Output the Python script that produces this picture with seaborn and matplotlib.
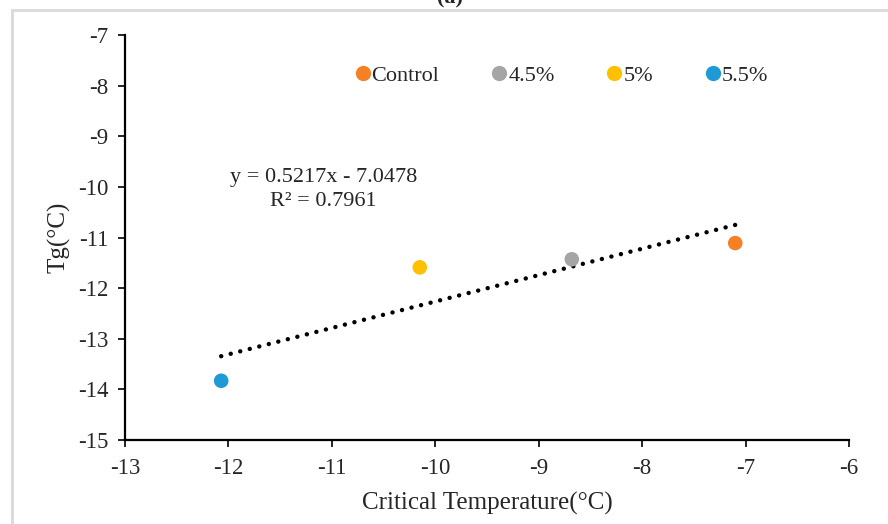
import matplotlib
matplotlib.use('Agg')
import matplotlib.pyplot as plt
import matplotlib.patches as patches
import seaborn as sns
import pandas as pd
import numpy as np

# Data
groups = ['Control', '4.5%', '5%', '5.5%']
critical_temp = [-7.10, -8.68, -10.15, -12.07]
tg = [-11.11, -11.43, -11.59, -13.83]
colors = ['#F58025', '#A5A5A5', '#FFC000', '#1F9AD6']

# Linear trend as reported on the chart
slope = 0.5217
intercept = -7.0478
r2 = 0.7961

sns.set_style('ticks')
plt.rcParams['font.family'] = ['Liberation Serif', 'DejaVu Serif']
plt.rcParams['font.size'] = 16
plt.rcParams['axes.unicode_minus'] = False

df = pd.DataFrame({'group': groups, 'x': critical_temp, 'y': tg})

fig = plt.figure(figsize=(8.88, 5.24), dpi=100)
ax = fig.add_axes([125 / 888, 84 / 524, 724 / 888, 405 / 524])

# Light grey frame around the chart area (cropped on the right/bottom)
frame = patches.Rectangle((11.5 / 888, -0.1), 1.2, 1 - 9.5 / 524 + 0.1,
                          transform=fig.transFigure, fill=False,
                          edgecolor='#D9D9D9', linewidth=2, clip_on=False)
fig.patches.append(frame)

# Dotted trend line across the data range
xs = np.array([min(critical_temp), max(critical_temp)])
trend = pd.DataFrame({'x': xs, 'y': slope * xs + intercept})
sns.lineplot(data=trend, x='x', y='y', ax=ax, color='black', linewidth=3.2,
             linestyle=(0, (0.01, 2.2)), dash_capstyle='round', legend=False)

sns.scatterplot(data=df, x='x', y='y', hue='group', palette=colors,
                s=110, edgecolor='none', ax=ax, zorder=3)

ax.set_xlim(-13, -6)
ax.set_ylim(-15, -7)
ax.set_xticks(range(-13, -5))
ax.set_yticks(range(-15, -6))
ax.set_xlabel('Critical Temperature(°C)', fontsize=18, labelpad=9)
ax.set_ylabel('Tg(°C)', fontsize=18, labelpad=5)
ax.tick_params(axis='both', direction='out', length=5, width=1.2,
               color='black', labelsize=16.5)
ax.tick_params(axis='y', pad=7)
ax.tick_params(axis='x', pad=8)
sns.despine(ax=ax)
for side in ['left', 'bottom']:
    ax.spines[side].set_linewidth(1.6)
    ax.spines[side].set_color('black')
ax.grid(False)

ax.text(-11.08, -10.05, f'y = {slope}x - {abs(intercept)}\nR² = {r2}',
        ha='center', va='center', fontsize=16, linespacing=1.3)

leg = ax.legend(loc='upper center', bbox_to_anchor=(0.604, 0.975), ncol=4,
                frameon=False, fontsize=16, handlelength=0.55,
                handletextpad=0.12, columnspacing=2.42, markerscale=1.0)
for h in leg.legend_handles:
    h.set_markersize(11)

fig.text(0.507, 1 - 8 / 524, '(a)', ha='center', va='bottom',
         fontsize=16, fontweight='bold')

fig.savefig('out.png', dpi=100)
